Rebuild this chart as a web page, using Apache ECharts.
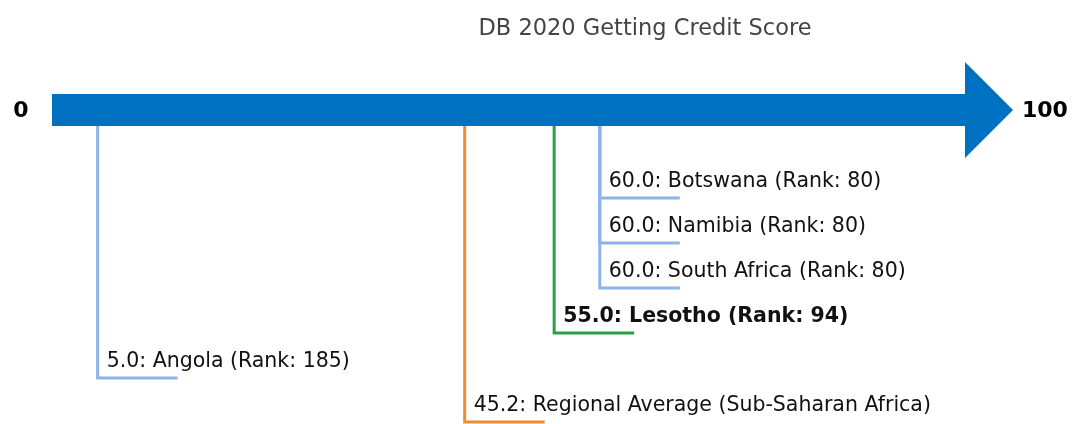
<!DOCTYPE html>
<html>
<head>
<meta charset="utf-8">
<title>DB 2020 Getting Credit Score</title>
<script src="https://cdn.jsdelivr.net/npm/echarts@6/dist/echarts.min.js"></script>
<style>
  html, body { margin: 0; padding: 0; background: #fff; }
  #chart { width: 1072px; height: 424px; }
</style>
</head>
<body>
<div id="chart"></div>
<script>
// data
const economies = ['Angola', 'Regional Average (Sub-Saharan Africa)', 'Lesotho', 'Botswana', 'Namibia', 'South Africa']
const scores = [5.0, 45.2, 55.0, 60.0, 60.0, 60.0]
const ranks = [185, null, 94, 80, 80, 80]
const kinds = ['peer', 'regional', 'focus', 'peer', 'peer', 'peer']
const scaleTicks = [0, 100]

// layout (y in page pixels, the y axis runs 0..424 top-down)
const barTop = 94
const barBottom = 126
const leaderEnds = [378, 422, 333, 198, 243, 288]
const headLen = 48
const headHalf = 48
const stubLen = 80

const kindColor = { peer: '#8db4ea', regional: '#f58a2e', focus: '#2c9d48' }
const FONT = 'DejaVu Sans'

const chart = echarts.init(document.getElementById('chart'))

const labelText = i => {
  const s = scores[i].toFixed(1)
  return ranks[i] == null ? `${s}: ${economies[i]}` : `${s}: ${economies[i]} (Rank: ${ranks[i]})`
}

const option = {
  animation: false,
  title: {
    text: 'DB 2020 Getting Credit Score',
    left: 640,
    top: 13,
    textAlign: 'center',
    textStyle: { fontFamily: FONT, fontSize: 22.5, fontWeight: 'normal', color: '#444' }
  },
  grid: { left: 52, right: 107, top: 0, bottom: 0 },
  xAxis: { type: 'value', min: scaleTicks[0], max: scaleTicks[1], show: false },
  yAxis: { type: 'value', min: 0, max: 424, inverse: true, show: false },
  series: [
    {
      // arrow
      type: 'custom',
      data: [[scaleTicks[0], scaleTicks[1]]],
      renderItem: (params, api) => {
        const x0 = api.coord([api.value(0), barTop])
        const x1 = api.coord([api.value(1), barBottom])
        const mid = (x0[1] + x1[1]) / 2
        return {
          type: 'group',
          children: [
            {
              type: 'polygon',
              shape: {
                points: [
                  [x0[0], x0[1]], [x1[0], x0[1]], [x1[0], mid - headHalf],
                  [x1[0] + headLen, mid], [x1[0], mid + headHalf], [x1[0], x1[1]], [x0[0], x1[1]]
                ]
              },
              style: { fill: '#0070c0' }
            },
            {
              type: 'text',
              style: {
                text: String(scaleTicks[0]), x: x0[0] - 31, y: mid + 1,
                align: 'center', verticalAlign: 'middle',
                font: `bold 22px "${FONT}"`, fill: '#000'
              }
            },
            {
              type: 'text',
              style: {
                text: String(scaleTicks[1]), x: x1[0] + headLen + 9, y: mid + 1,
                align: 'left', verticalAlign: 'middle',
                font: `bold 22px "${FONT}"`, fill: '#000'
              }
            }
          ]
        }
      }
    },
    {
      // leader lines and labels
      type: 'custom',
      data: scores.map((s, i) => [s, i]),
      renderItem: (params, api) => {
        const i = api.value(1)
        const top = api.coord([api.value(0), barBottom])
        const bot = api.coord([api.value(0), leaderEnds[i]])
        const color = kindColor[kinds[i]]
        const bold = kinds[i] === 'focus'
        return {
          type: 'group',
          children: [
            {
              type: 'polyline',
              shape: { points: [[top[0], top[1]], [bot[0], bot[1]], [bot[0] + stubLen, bot[1]]] },
              style: { stroke: color, lineWidth: 3, fill: null }
            },
            {
              type: 'text',
              style: {
                text: labelText(i), x: top[0] + 9, y: bot[1] - 6,
                align: 'left', verticalAlign: 'bottom',
                font: `${bold ? 'bold ' : ''}20.5px "${FONT}"`, fill: '#111'
              }
            }
          ]
        }
      }
    }
  ]
}

chart.setOption(option)
window.addEventListener('resize', () => chart.resize())
</script>
</body>
</html>
